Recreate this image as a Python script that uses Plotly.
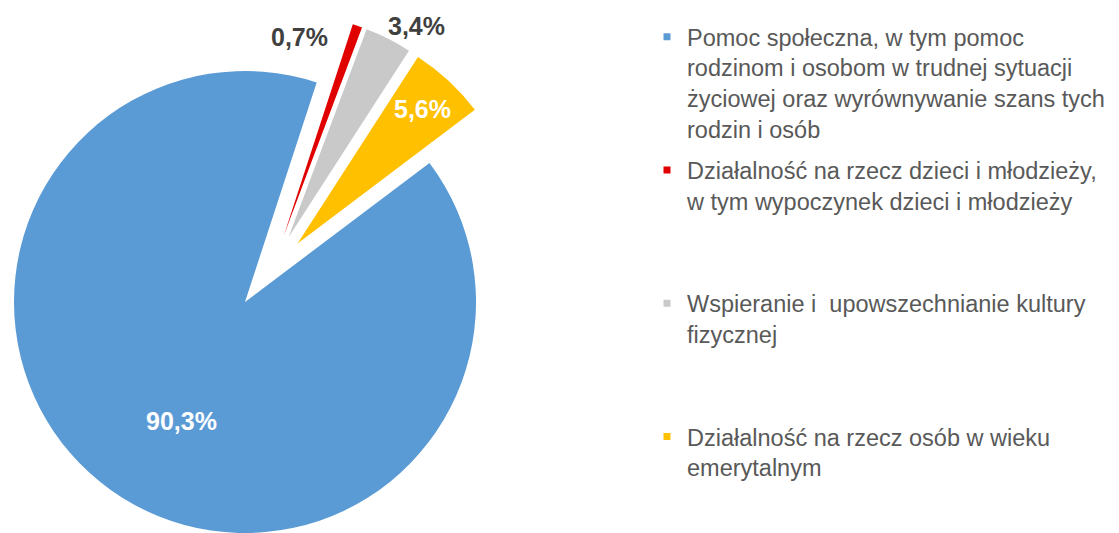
import plotly.graph_objects as go

# ---- data ----
categories = [
    "Pomoc społeczna, w tym pomoc<br>rodzinom i osobom w trudnej sytuacji<br>życiowej oraz wyrównywanie szans tych<br>rodzin i osób",
    "Działalność na rzecz dzieci i młodzieży,<br>w tym wypoczynek dzieci i młodzieży",
    "Wspieranie i  upowszechnianie kultury<br>fizycznej",
    "Działalność na rzecz osób w wieku<br>emerytalnym",
]
values = [90.3, 0.7, 3.4, 5.6]
colors = ["#5B9BD5", "#E00000", "#C9C9C9", "#FFC000"]

# ---- styling ----
# the page body adds an 8px margin, so the figure is 1111x525 inside the 1119x533 window
W, H = 1111, 525
FONT = "Liberation Sans, Arial, sans-serif"
CLEAR = "rgba(0,0,0,0)"
ROT = 53
label_pos_px = [(173, 413), (291, 29), (408, 18), (414, 101)]
label_colors = ["white", "#404040", "#404040", "white"]


def dom(cx, cy, half):
    return dict(
        x=[max(0.0, (cx - half) / W), min(1.0, (cx + half) / W)],
        y=[max(0.0, 1 - (cy + half) / H), min(1.0, 1 - (cy - half) / H)],
    )


fig = go.Figure()

# legend-only tiny pies (hidden beneath the main slice)
n_lines = max(c.count("<br>") + 1 for c in categories)
for i, (cat, val, col) in enumerate(zip(categories, values, colors)):
    pad = ""
    if i < len(categories) - 1:
        pad = "<br> " * (n_lines - (cat.count("<br>") + 1))
    fig.add_trace(go.Pie(
        labels=[cat + pad], values=[val], sort=False,
        marker=dict(colors=[col], line=dict(color="white", width=5)),
        domain=dict(x=[0.12, 0.13], y=[0.45, 0.46]),
        textinfo="none", hoverinfo="skip", showlegend=True,
        legendgroup=f"g{i}",
    ))

# main (non-exploded) slice
fig.add_trace(go.Pie(
    labels=categories, values=values, sort=False,
    direction="clockwise", rotation=ROT,
    marker=dict(colors=[colors[0], CLEAR, CLEAR, CLEAR], line=dict(width=0)),
    domain=dom(237, 294, 231),
    textinfo="none", hoverinfo="label+percent", showlegend=False,
))

# exploded slices
half_c = 261
r_c = 222
pull = half_c / r_c - 1
fig.add_trace(go.Pie(
    labels=categories, values=values, sort=False,
    direction="clockwise", rotation=ROT,
    marker=dict(colors=[CLEAR] + colors[1:], line=dict(width=0)),
    pull=[0, pull, pull, pull],
    domain=dom(263, 264, half_c),
    textinfo="none", hoverinfo="label+percent", showlegend=False,
))

for val, (px, py), tc in zip(values, label_pos_px, label_colors):
    fig.add_annotation(
        x=px / W, y=1 - py / H, xref="paper", yref="paper",
        xanchor="center", yanchor="middle",
        text=f"{val:.1f}".replace(".", ",") + "%", showarrow=False,
        font=dict(family=FONT, size=25, color=tc, weight="bold"),
    )

fig.update_layout(
    width=W, height=H, autosize=False,
    margin=dict(l=0, r=0, t=0, b=0),
    paper_bgcolor="white", plot_bgcolor="white",
    showlegend=True,
    legend=dict(
        x=639 / W, y=1 - 7 / H, xanchor="left", yanchor="top",
        font=dict(family=FONT, size=23.5, color="#595959"),
        valign="top", traceorder="grouped", tracegroupgap=8,
        bgcolor="rgba(0,0,0,0)",
    ),
)

fig.write_html("out.html")
